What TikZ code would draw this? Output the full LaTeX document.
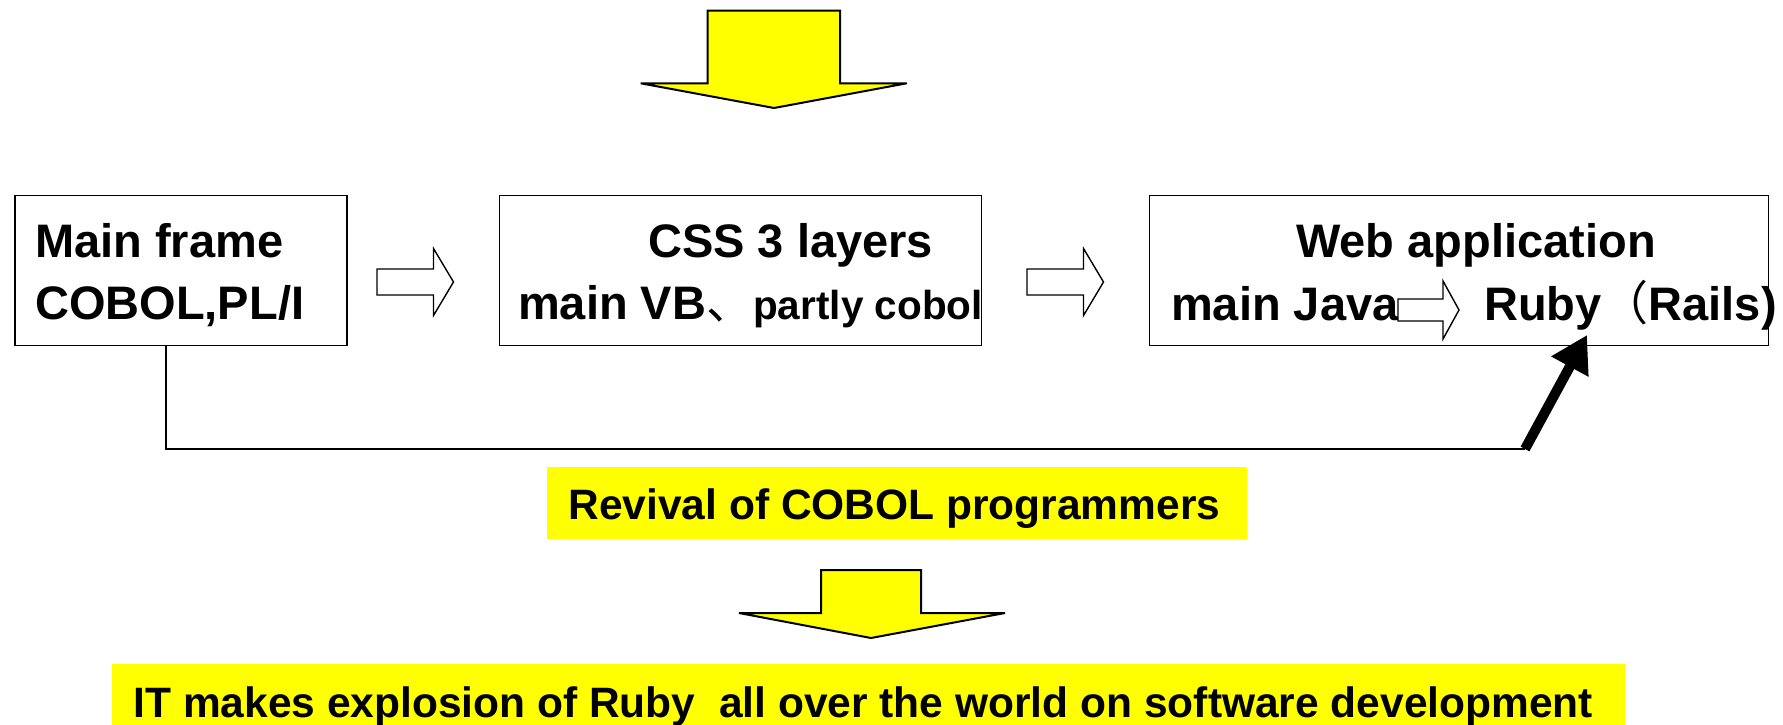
\documentclass[tikz,border=0pt]{standalone}
\usepackage{fontspec}
\setmainfont{Liberation Sans}
\newfontfamily\cjk{Noto Sans CJK SC}
\usetikzlibrary{arrows.meta}
\definecolor{hiyellow}{HTML}{FFFF00}
\tikzset{
  stagebox/.style={draw=black, line width=1.8pt, inner sep=0pt, anchor=north west},
  boxtext/.style={inner sep=0pt, anchor=base west, font=\bfseries\fontsize{47}{56}\selectfont},
  bandtext/.style={inner sep=0pt, anchor=base west, font=\bfseries\fontsize{42.5}{50}\selectfont},
  band/.style={fill=hiyellow, draw=none},
  blockarrow/.style={fill=hiyellow, draw=black, line width=2pt, line join=miter},
  hollow/.style={draw=black, fill=white, line width=1.4pt, line join=miter},
  link/.style={draw=black, line width=2pt},
  boldlink/.style={draw=black, line width=10pt, -{Triangle[length=36pt,width=40pt]}},
  pics/hollowarrow/.style args={#1/#2/#3/#4}{code={
    % length / head length / shaft half-height / head half-height
    \path[hollow] (0,-#3) -- ({#1-#2},-#3) -- ({#1-#2},-#4) -- (#1,0)
      -- ({#1-#2},#4) -- ({#1-#2},#3) -- (0,#3) -- cycle;
  }}
}
\begin{document}
\begin{tikzpicture}[x=1pt,y=-1pt]
\useasboundingbox (0,0) rectangle (1783,725);

% big arrow at the top
\path[blockarrow] (707.7,10.7) -- (840,10.7) -- (840,83.3) -- (906.7,83.3)
  -- (774,108) -- (640.7,83.3) -- (707.7,83.3) -- cycle;

% three stages
\node[stagebox, minimum width=332pt, minimum height=150pt] (box1) at (14,194.5) {};
\node[stagebox, minimum width=482pt, minimum height=150pt] (box2) at (498.5,194.5) {};
\node[stagebox, minimum width=619pt, minimum height=150pt] (box3) at (1148.5,194.5) {};

\node[boxtext] (t1a) at (35,257) {Main frame};
\node[boxtext] (t1b) at (35,319) {COBOL,PL/I};

\node[boxtext] (t2a) at (648,257) {CSS 3 layers};
\node[boxtext] (t2b) at (518,319) {main VB{\cjk\mdseries 、}{\fontsize{40.5}{48}\selectfont partly cobol}};

\node[boxtext] (t3a) at (1296,257) {Web application};
\node[boxtext] (t3b) at (1171,320) {main Java};
\node[boxtext] (t3c) at (1484,320) {Ruby{\cjk\mdseries （}Rails)};

% hollow arrows between and inside the stages
\pic at (377,282) {hollowarrow={76.5/20/13/33.5}};
\pic at (1027,282) {hollowarrow={76.5/20/13/33.5}};
\pic at (1398,310) {hollowarrow={61/16/11/29}};

% path from the main frame to Ruby
\coordinate (c1) at (166,449);
\coordinate (c2) at (1525,449);
\coordinate (tipc) at (1587,335);
\draw[link] (box1.south -| c1) -- (c1) -- (c2);
\draw[boldlink] (c2) -- (tipc);

% revival label
\path[band] (547.3,467.3) rectangle (1246.7,539);
\node[bandtext] (rev) at (568.3,519.3) {Revival of COBOL programmers};

% second big arrow
\path[blockarrow] (821,570) -- (921,570) -- (921,613) -- (1005,613)
  -- (871,638) -- (739,613) -- (821,613) -- cycle;

% bottom label
\path[band] (111.7,664) rectangle (1625,730);
\node[bandtext] (ruby) at (133.3,717) {IT makes explosion of Ruby\ \ all over the world on software development};
\end{tikzpicture}
\end{document}
